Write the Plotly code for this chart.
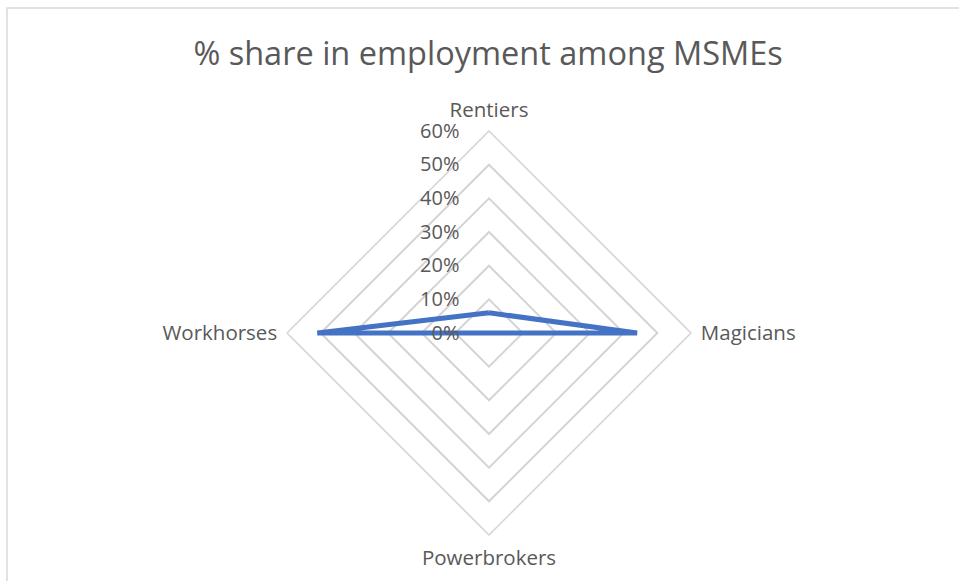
import plotly.graph_objects as go

categories = ["Rentiers", "Magicians", "Powerbrokers", "Workhorses"]
share = [0.06, 0.44, 0.0, 0.51]
tick_vals = [0, 0.1, 0.2, 0.3, 0.4, 0.5, 0.6]
tick_text = ["0%", "10%", "20%", "30%", "40%", "50%", "60%"]

W, H = 959, 581
cx, cy, R = 489, 333, 202

fig = go.Figure()
fig.add_trace(go.Scatterpolar(
    r=share + [share[0]],
    theta=categories + [categories[0]],
    mode="lines",
    line=dict(color="#4472C4", width=5),
    hoverinfo="skip",
    showlegend=False,
))

font_main = "Open Sans"
fig.update_layout(
    width=W, height=H,
    margin=dict(l=0, r=0, t=0, b=0),
    paper_bgcolor="white",
    plot_bgcolor="white",
    title=dict(text="% share in employment among MSMEs", x=0.509, xanchor="center",
               y=1 - 54 / H, yanchor="middle",
               font=dict(family=font_main, size=32.5, color="#595959")),
    polar=dict(
        domain=dict(x=[(cx - R) / W, (cx + R) / W], y=[(H - cy - R) / H, (H - cy + R) / H]),
        bgcolor="white",
        gridshape="linear",
        angularaxis=dict(
            rotation=90, direction="clockwise",
            showgrid=False, showline=True, linecolor="#D4D4D4", linewidth=1.5,
            ticks="outside", ticklen=5, tickcolor="rgba(0,0,0,0)",
            tickfont=dict(family=font_main, size=20.5, color="#595959"),
        ),
        radialaxis=dict(
            range=[0, 0.6], tickvals=tick_vals, ticktext=tick_text,
            angle=90, tickangle=90, side="counterclockwise",
            showline=False, ticks="outside", ticklen=22, tickcolor="rgba(0,0,0,0)",
            gridcolor="#D4D4D4", gridwidth=1.5,
            tickfont=dict(family=font_main, size=20, color="#595959"),
        ),
    ),
    shapes=[dict(type="path", xref="paper", yref="paper",
                 path=f"M {7/W} 0 L {7/W} {1-8/H} L 1 {1-8/H}",
                 line=dict(color="#D9D9D9", width=1.5))],
)

fig.write_html("out.html", config={"displayModeBar": False},
               post_script="document.body.style.margin='0';")
